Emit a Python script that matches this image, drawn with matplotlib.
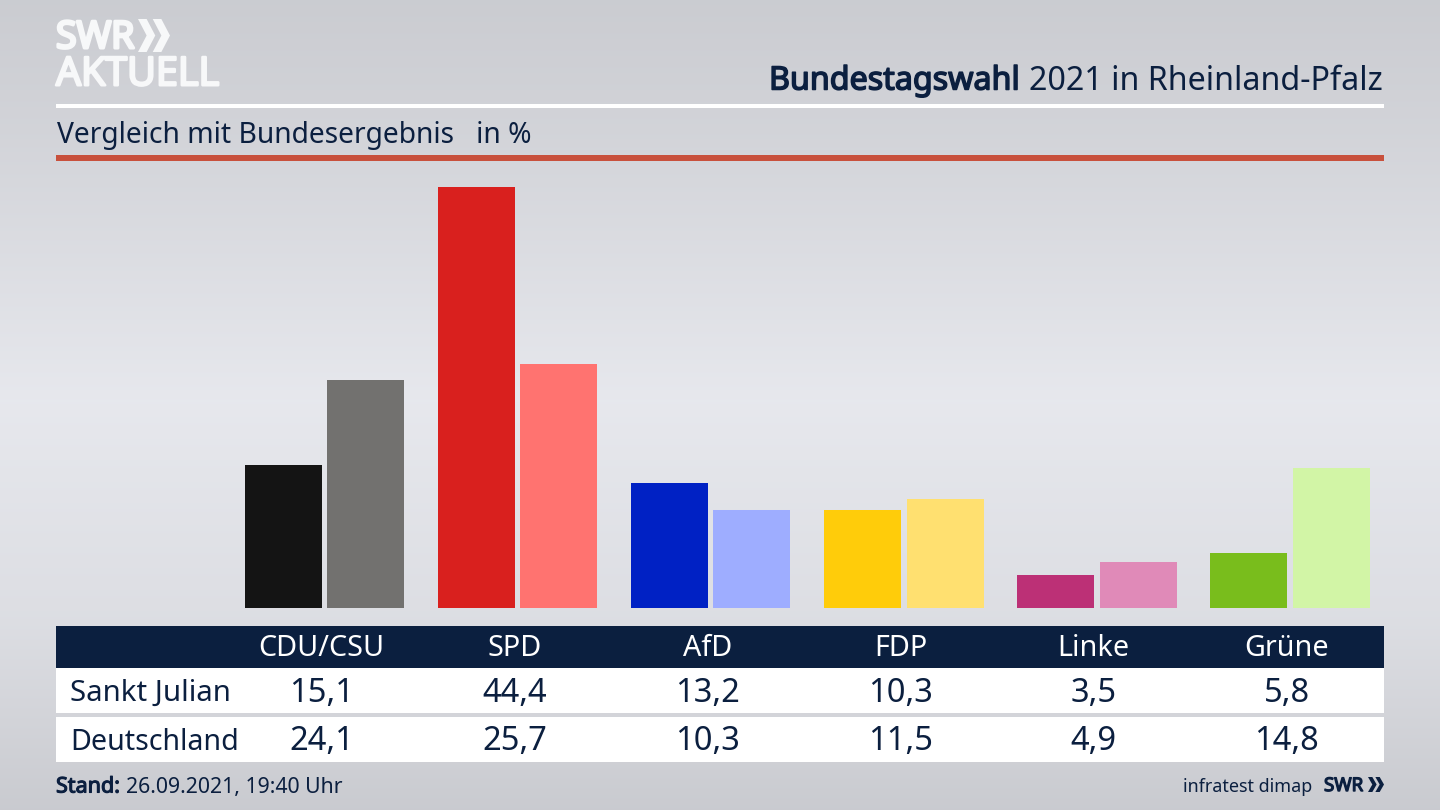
import numpy as np
import matplotlib
matplotlib.use('Agg')
import matplotlib.pyplot as plt
import matplotlib.patheffects as pe
from matplotlib.patches import Rectangle, Polygon

parties = ['CDU/CSU', 'SPD', 'AfD', 'FDP', 'Linke', 'Grüne']
region_name = 'Sankt Julian'
country_name = 'Deutschland'
region_values = [15.1, 44.4, 13.2, 10.3, 3.5, 5.8]
country_values = [24.1, 25.7, 10.3, 11.5, 4.9, 14.8]
region_colors = ['#141414', '#d9201e', '#0021c4', '#ffcc0a', '#bc3076', '#79bd1c']
country_colors = ['#72716f', '#ff7370', '#9eadff', '#ffe070', '#e08ab8', '#d2f5a6']

NAVY = '#0b1f3f'
LOGO = '#f7f8f9'
W, H = 1440, 810

plt.rcParams['font.family'] = ['Noto Sans', 'DejaVu Sans']

fig = plt.figure(figsize=(14.4, 8.1), dpi=100)

# background and everything that is not a bar, in pixel coordinates
bg = fig.add_axes([0, 0, 1, 1])
bg.set_xlim(0, W)
bg.set_ylim(H, 0)
bg.axis('off')
stops_y = [0, 130, 400, 620, 810]
stops_v = [0.795, 0.825, 0.905, 0.865, 0.79]
grad = np.interp(np.arange(H), stops_y, stops_v)
img = np.stack([grad, grad + 0.005, grad + 0.025], axis=1).clip(0, 1)[:, None, :]
bg.imshow(img, extent=[0, W, H, 0], aspect='auto', zorder=0)


def rect(x0, y0, x1, y1, color):
    bg.add_patch(Rectangle((x0, y0), x1 - x0, y1 - y0, color=color, lw=0, zorder=1))


def chevrons(x0, y0, w, h, color):
    # two arrow heads like in the SWR logo
    cw = w * 0.54
    th = w * 0.27
    for x in (x0, x0 + w - cw):
        bg.add_patch(Polygon([(x, y0), (x + th, y0), (x + cw, y0 + h / 2),
                              (x + th, y0 + h), (x, y0 + h), (x + cw - th, y0 + h / 2)],
                             color=color, lw=0, zorder=2))


def heavy(artist, color, width):
    # regular cut thickened with a stroke, the bold cuts do not resolve
    artist.set_path_effects([pe.withStroke(linewidth=width, foreground=color)])


rect(56, 104, 1384, 107.5, 'white')
rect(56, 155, 1384, 160.5, '#c8503c')
rect(56, 626, 1384, 668, NAVY)
rect(56, 668, 1384, 713, 'white')
rect(56, 717, 1384, 762, 'white')

# logo
swr = bg.text(56, 38, 'SWR', color=LOGO, fontsize=27, family='Open Sans', va='center', ha='left', zorder=2)
heavy(swr, LOGO, 2.2)
chevrons(138, 19, 32, 33, LOGO)
akt = bg.text(56, 75, 'AKTUELL', color=LOGO, fontsize=28.5, family='Open Sans', va='center', ha='left', zorder=2)
heavy(akt, LOGO, 1.8)

# heading
bg.text(1383, 81, '2021 in Rheinland-Pfalz', color=NAVY, fontsize=23.2, va='center', ha='right', zorder=2)
title = bg.text(1020, 81, 'Bundestagswahl', color=NAVY, fontsize=23.2, va='center', ha='right', zorder=2)
heavy(title, NAVY, 1.1)
bg.text(57, 135, 'Vergleich mit Bundesergebnis   in %', color=NAVY, fontsize=20.3, va='center', ha='left', zorder=2)

# table
for i, p in enumerate(parties):
    x = 321.5 + 193 * i
    bg.text(x, 649, p, color='white', fontsize=20.7, va='center', ha='center', zorder=2)
    bg.text(x, 693, f'{region_values[i]:.1f}'.replace('.', ','), color=NAVY, fontsize=23.5, va='center', ha='center', zorder=2)
    bg.text(x, 742, f'{country_values[i]:.1f}'.replace('.', ','), color=NAVY, fontsize=23.5, va='center', ha='center', zorder=2)
bg.text(70, 693, region_name, color=NAVY, fontsize=21.2, va='center', ha='left', zorder=2)
bg.text(70, 742, country_name, color=NAVY, fontsize=20.6, va='center', ha='left', zorder=2)

# footer
stand = bg.text(56, 787, 'Stand:', color=NAVY, fontsize=15.5, va='center', ha='left', zorder=2)
heavy(stand, NAVY, 0.8)
bg.text(126, 787, '26.09.2021, 19:40 Uhr', color=NAVY, fontsize=15.3, va='center', ha='left', zorder=2)
bg.text(1312, 787, 'infratest dimap', color=NAVY, fontsize=12.9, va='center', ha='right', zorder=2)
swr2 = bg.text(1324, 786, 'SWR', color=NAVY, fontsize=13.5, family='Open Sans', va='center', ha='left', zorder=2)
heavy(swr2, NAVY, 1.0)
chevrons(1368, 777, 16, 15, NAVY)

# bars: axes spans y 160..608 px, x 56..1384 px
ax = fig.add_axes([56 / W, 1 - 608 / H, 1328 / W, 448 / H])
ax.patch.set_alpha(0)
ax.set_xlim((56 - 324.5) / 193.1, (1384 - 324.5) / 193.1)
ax.set_ylim(0, 448 / 9.48)
ax.axis('off')
xs = np.arange(len(parties))
bar_w = 77 / 193.1
off = 41.2 / 193.1
ax.bar(xs - off, region_values, bar_w, color=region_colors)
ax.bar(xs + off, country_values, bar_w, color=country_colors)

fig.savefig('out.png', dpi=100)
